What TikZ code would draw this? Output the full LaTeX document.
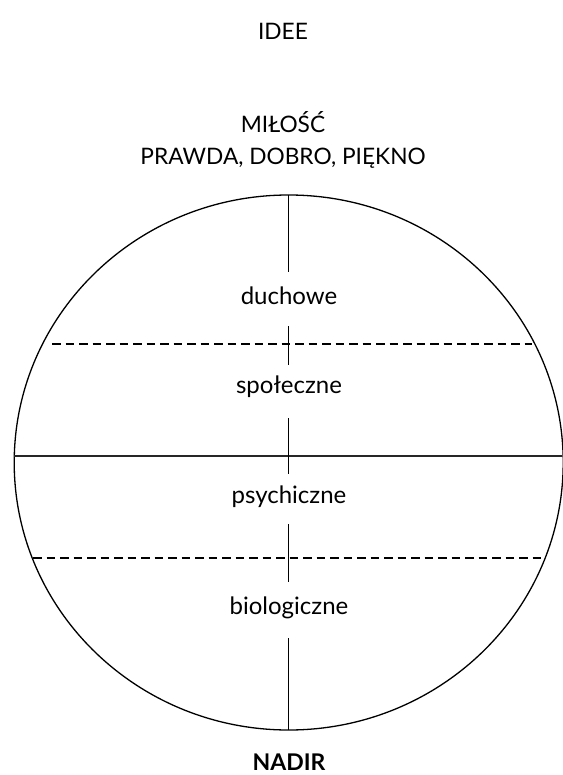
\documentclass[tikz,border=0pt]{standalone}
\usepackage{fontspec}
\setmainfont{Lato}
\begin{document}
\begin{tikzpicture}[x=1pt,y=-1pt,
  lbl/.style={font=\fontsize{24}{28}\selectfont, anchor=base, inner sep=0pt},
  caplbl/.style={lbl, font=\fontsize{22.7}{27}\selectfont},
  boldlbl/.style={lbl, font=\fontsize{23}{28}\selectfont\bfseries},
  thin/.style={line width=1.1pt, black},
  dashline/.style={line width=1.3pt, black, dash pattern=on 8.5pt off 5pt}]
\useasboundingbox (0,0) rectangle (562,775);
% outer ellipse
\draw[line width=1.3pt] (288.7,462.5) ellipse [x radius=274.5pt, y radius=267.5pt];
% texts
\node[caplbl] (idee) at (283,40) {IDEE};
\node[caplbl] (milosc) at (283,132.5) {MIŁOŚĆ};
\node[caplbl] (prawda) at (283,164.5) {PRAWDA, DOBRO, PIĘKNO};
\node[lbl] (duch) at (289,304) {duchowe};
\node[lbl] (spol) at (289,393) {społeczne};
\node[lbl] (psych) at (289,503) {psychiczne};
\node[lbl] (bio) at (289,614) {biologiczne};
\node[boldlbl] (nadir) at (289,770) {NADIR};
% horizontal lines
\coordinate (hL) at (14.2,456);
\coordinate (hR) at (562,456);
\draw[line width=1.4pt, black!85] (hL) -- (hR);
\coordinate (d1L) at (52,344);
\coordinate (d1R) at (532,344);
\draw[dashline] (d1L) -- (d1R);
\coordinate (d2L) at (33,558);
\coordinate (d2R) at (545,558);
\draw[dashline] (d2L) -- (d2R);
% vertical segments
\coordinate (v1a) at (288.7,195);
\coordinate (v1b) at (288.7,272);
\coordinate (v2a) at (288.7,326);
\coordinate (v2b) at (288.7,365);
\coordinate (v3a) at (288.7,418);
\coordinate (v3b) at (288.7,474);
\coordinate (v4a) at (288.7,524);
\coordinate (v4b) at (288.7,582);
\coordinate (v5a) at (288.7,638);
\coordinate (v5b) at (288.7,730);
\draw[thin] (v1a) -- (v1b);
\draw[thin] (v2a) -- (v2b);
\draw[thin] (v3a) -- (v3b);
\draw[thin] (v4a) -- (v4b);
\draw[thin] (v5a) -- (v5b);
\end{tikzpicture}
\end{document}
